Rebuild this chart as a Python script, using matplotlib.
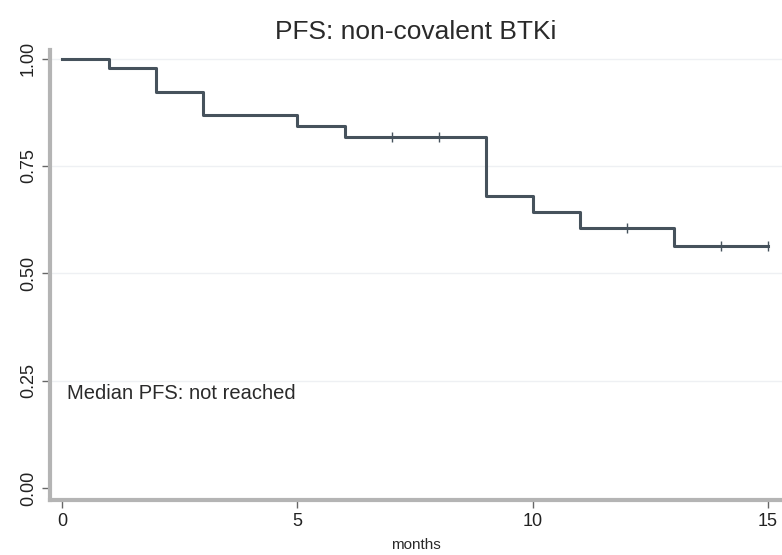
import matplotlib
matplotlib.use("Agg")
import matplotlib.pyplot as plt

plt.rcParams["font.family"] = ["Liberation Sans", "DejaVu Sans"]

# Kaplan-Meier step values
event_months = [0, 1, 2, 3, 5, 6, 9, 10, 11, 13, 15]
survival = [1.00, 0.977, 0.923, 0.869, 0.843, 0.818, 0.680, 0.643, 0.605, 0.563, 0.563]
censor_months = [7, 8, 12, 14, 15]
censor_surv = [0.818, 0.818, 0.605, 0.563, 0.563]

x_ticks = [0, 5, 10, 15]
y_ticks = [0.00, 0.25, 0.50, 0.75, 1.00]
y_labels = ["0.00", "0.25", "0.50", "0.75", "1.00"]

LINE = "#46525c"
AXIS = "#b4b4b4"

fig = plt.figure(figsize=(7.82, 5.55), dpi=100)
ax = fig.add_axes([0.064, 0.10, 0.936, 0.81])

for yv in y_ticks[1:]:
    ax.axhline(yv, color="#eef0f3", lw=1.0, zorder=0)

ax.step(event_months, survival, where="post", color=LINE, lw=2.2, zorder=3)
ax.scatter(censor_months, censor_surv, marker="|", s=60, color=LINE, lw=1.0, zorder=3)

ax.text(0.1, 0.22, "Median PFS: not reached", fontsize=14.5, color="#2a2a2a",
        va="center", ha="left")

ax.set_xlim(-0.26, 15.3)
ax.set_ylim(-0.026, 1.02)
ax.set_xticks(x_ticks)
ax.set_yticks(y_ticks)
ax.set_yticklabels(y_labels, rotation=90, va="center")
ax.tick_params(colors="#666666", labelcolor="#222222", labelsize=13, length=6, width=1)

for side in ["top", "right"]:
    ax.spines[side].set_visible(False)
for side in ["left", "bottom"]:
    ax.spines[side].set_color(AXIS)
    ax.spines[side].set_linewidth(3)

ax.set_xlabel("months", fontsize=11, color="#2a2a2a", labelpad=6)
ax.set_title("PFS: non-covalent BTKi", fontsize=19, color="#2a2a2a", pad=8)

fig.savefig("out.png", dpi=100, facecolor="white")
